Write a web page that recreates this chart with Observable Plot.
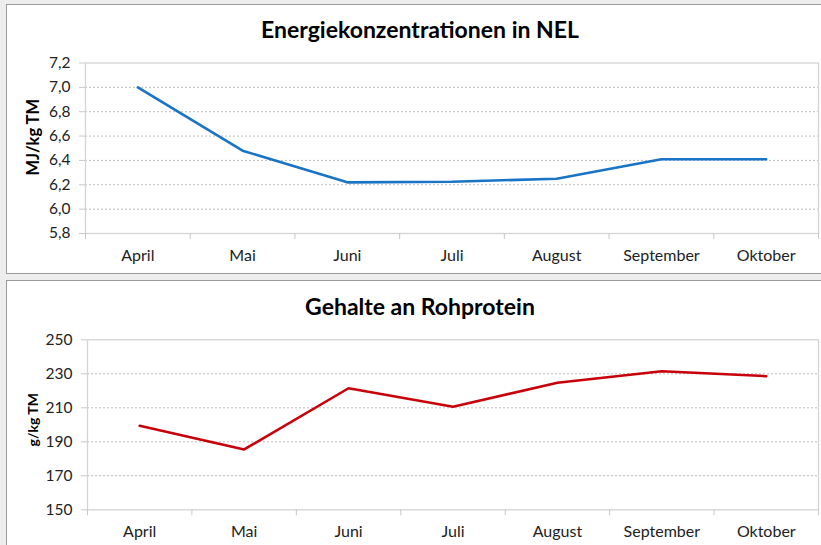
<!DOCTYPE html>
<html>
<head>
<meta charset="utf-8">
<script src="https://cdn.jsdelivr.net/npm/d3@7"></script>
<script src="https://cdn.jsdelivr.net/npm/@observablehq/plot@0.6"></script>
<style>
  body { margin: 0; background: #ededed; font-family: Lato, "Open Sans", sans-serif; width: 821px; height: 545px; overflow: hidden; position: relative; }
  .panel { position: absolute; left: 6px; width: 816px; background: #fff; border: 1px solid #9a9a9a; box-sizing: border-box; }
  .title { position: absolute; left: 0; width: 840px; text-align: center; font-weight: bold; font-size: 23px; color: #000; }
  .chart { position: absolute; left: 0; }
</style>
</head>
<body>
<div class="panel" style="top:4px;height:270px"></div>
<div class="panel" style="top:280px;height:280px"></div>
<div class="title" style="top:15px">Energiekonzentrationen in NEL</div>
<div class="title" style="top:292px">Gehalte an Rohprotein</div>
<div id="chart1" class="chart" style="top:0px"></div>
<div id="chart2" class="chart" style="top:281px"></div>
<script>
const months = ["April", "Mai", "Juni", "Juli", "August", "September", "Oktober"];
const nel = [7.0, 6.48, 6.22, 6.225, 6.25, 6.41, 6.41];
const protein = [199.4, 185.5, 221.5, 210.6, 224.7, 231.5, 228.6];
const nelTicks = [5.8, 6.0, 6.2, 6.4, 6.6, 6.8, 7.0, 7.2];
const proteinTicks = [150, 170, 190, 210, 230, 250];

const comma = d => d3.format(".1f")(d).replace(".", ",");

function makeChart(values, ticks, fmt, color, opts) {
  const data = months.map((m, i) => ({ x: i + 0.5, y: values[i] }));
  const lo = ticks[0], hi = ticks[ticks.length - 1];
  return Plot.plot({
    width: 821,
    height: opts.height,
    marginLeft: opts.left,
    marginRight: 3,
    marginTop: opts.top,
    marginBottom: opts.bottom,
    style: { fontFamily: "Lato, 'Open Sans', sans-serif", fontSize: "15px", color: "#222", background: "transparent" },
    x: { domain: [0, months.length], axis: null },
    y: { domain: [lo, hi], axis: null },
    marks: [
      Plot.ruleY(ticks.slice(1, -1), { stroke: "#bdbdbd", strokeDasharray: "2,2", strokeWidth: 1 }),
      Plot.frame({ stroke: "#d4d4d4", strokeWidth: 1.3 }),
      Plot.axisY(ticks, { tickSize: 6, tickPadding: 9, tickFormat: fmt, stroke: "#c8c8c8", fontSize: 15.5, label: null }),
      Plot.axisX(d3.range(months.length + 1), { tickSize: 6, tickFormat: () => "", stroke: "#c8c8c8", label: null }),
      Plot.axisX(months.map((m, i) => i + 0.5), { tickSize: 0, tickPadding: 16, tickFormat: d => months[d - 0.5], fontSize: 16, label: null }),
      Plot.line(data, { x: "x", y: "y", stroke: color, strokeWidth: 2.6 }),
      Plot.text([opts.label], { frameAnchor: "left", textAnchor: "middle", dx: -opts.left + 33, dy: opts.labelDy, rotate: -90, fontWeight: "bold", fontSize: opts.labelSize, fill: "#000" })
    ]
  });
}

document.getElementById("chart1").append(makeChart(nel, nelTicks, comma, "#1a74c6",
  { height: 273, left: 85, top: 62.5, bottom: 40, label: "MJ/kg TM", labelSize: 16.5, labelDy: -11 }));
document.getElementById("chart2").append(makeChart(protein, proteinTicks, d => d, "#c8000a",
  { height: 264, left: 87, top: 58.3, bottom: 35.7, label: "g/kg TM", labelSize: 14, labelDy: -5 }));
</script>
</body>
</html>
